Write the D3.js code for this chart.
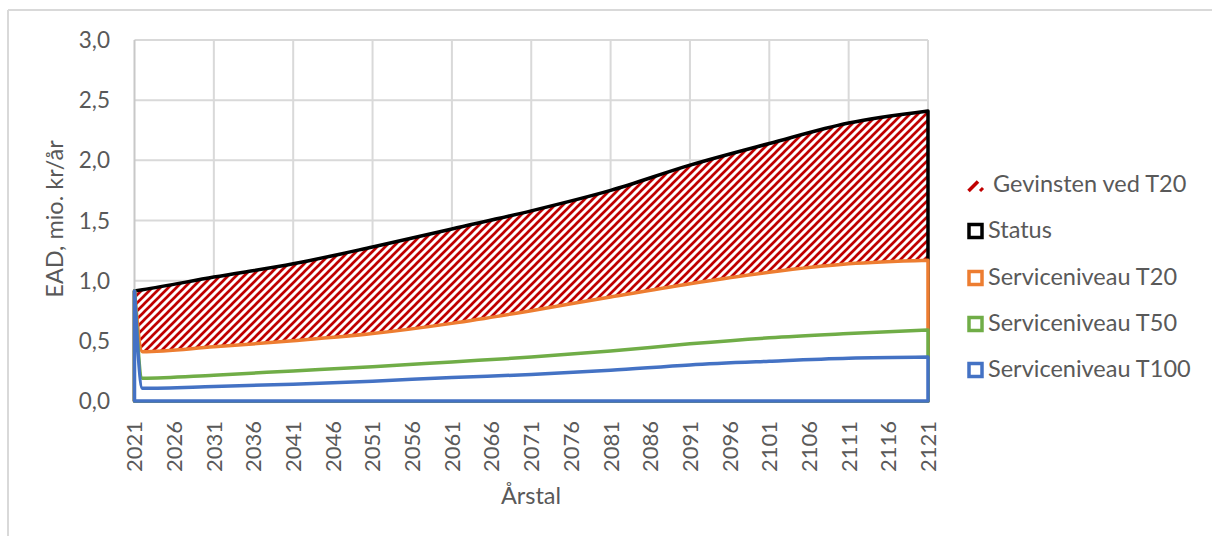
<!DOCTYPE html>
<html><head><meta charset="utf-8">
<script src="https://cdn.jsdelivr.net/npm/d3@7"></script>
<style>
body{margin:0;background:#fff;}
text{font-family:Lato, "Open Sans", sans-serif;fill:#595959;}
</style>
</head><body>
<svg id="c" width="1212" height="536"></svg>
<script>
// Categories (x axis: every year 2021..2121)
const categories = d3.range(2021, 2122);
const xTickLabels = [2021,2026,2031,2036,2041,2046,2051,2056,2061,2066,2071,2076,2081,2086,2091,2096,2101,2106,2111,2116,2121];
const yTickValues = [0,0.5,1,1.5,2,2.5,3];
const sampleYears = [2021,2022,2031,2041,2051,2061,2071,2081,2091,2101,2111,2121];
const status = [0.915,0.925,1.03,1.14,1.28,1.43,1.58,1.75,1.96,2.14,2.31,2.41];
const t20    = [0.915,0.41,0.45,0.50,0.56,0.645,0.75,0.865,0.975,1.07,1.14,1.17];
const t50    = [0.915,0.19,0.215,0.25,0.285,0.325,0.365,0.415,0.475,0.525,0.56,0.59];
const t100   = [0.915,0.105,0.12,0.14,0.165,0.195,0.22,0.255,0.30,0.33,0.355,0.365];
const legendLabels = ["Gevinsten ved T20","Status","Serviceniveau T20","Serviceniveau T50","Serviceniveau T100"];
const colors = {gain:"#C00000", status:"#000000", t20:"#ED7D31", t50:"#70AD47", t100:"#4472C4"};

const svg = d3.select("#c");
const L=134.5, R=928, T=40, B=401;
const x = d3.scalePoint().domain(categories).range([L, R]);
const y = d3.scaleLinear().domain([0,3]).range([B, T]);
const curve = d3.curveMonotoneX;

// chart border (top + left)
svg.append("line").attr("x1",8).attr("x2",1212).attr("y1",10).attr("y2",10).attr("stroke","#d9d9d9").attr("stroke-width",2);
svg.append("line").attr("x1",8).attr("x2",8).attr("y1",10).attr("y2",536).attr("stroke","#d9d9d9").attr("stroke-width",2);

// hatch pattern
const defs = svg.append("defs");
const pat = defs.append("pattern").attr("id","hatch").attr("patternUnits","userSpaceOnUse").attr("width",8).attr("height",8);
pat.append("rect").attr("width",8).attr("height",8).attr("fill","#fff");
pat.append("path").attr("d","M-2,2 L2,-2 M0,8 L8,0 M6,10 L10,6").attr("stroke",colors.gain).attr("stroke-width",2.7);

// gridlines
svg.append("g").selectAll("line").data(yTickValues.filter(v=>v>0)).join("line")
  .attr("x1",L).attr("x2",R).attr("y1",d=>y(d)).attr("y2",d=>y(d))
  .attr("stroke","#d9d9d9").attr("stroke-width",2);
svg.append("g").selectAll("line").data(categories.filter(c=>(c-2021)%10===0 && c>2021)).join("line")
  .attr("x1",d=>x(d)).attr("x2",d=>x(d)).attr("y1",T).attr("y2",B)
  .attr("stroke","#d9d9d9").attr("stroke-width",2);
// axis lines
svg.append("line").attr("x1",L).attr("x2",L).attr("y1",T).attr("y2",B).attr("stroke","#c8c8c8").attr("stroke-width",2);
svg.append("line").attr("x1",L).attr("x2",R).attr("y1",B).attr("y2",B).attr("stroke","#c8c8c8").attr("stroke-width",2);

const pts = arr => sampleYears.map((yr,i)=>({yr, v:arr[i]}));
// Gain area between T20 and Status
const gain = sampleYears.map((yr,i)=>({yr, lo:t20[i], hi:status[i]}));
svg.append("path").datum(gain)
  .attr("d", d3.area().curve(curve).x(d=>x(d.yr)).y0(d=>y(d.lo)).y1(d=>y(d.hi)))
  .attr("fill","url(#hatch)");

function outline(arr, col, fill){
  const p = pts(arr);
  const line = d3.line().curve(curve).x(d=>x(d.yr)).y(d=>y(d.v));
  const d = "M"+x(sampleYears[0])+","+y(0)+"L"+line(p).slice(1)+"L"+x(sampleYears[sampleYears.length-1])+","+y(0)+"Z";
  svg.append("path").attr("d",d).attr("fill",fill).attr("stroke",col).attr("stroke-width",3.5).attr("stroke-linejoin","round");
}
outline(status, colors.status, "none");
outline(t20, colors.t20, "#fff");
outline(t50, colors.t50, "#fff");
outline(t100, colors.t100, "#fff");

// Y axis labels
svg.append("g").selectAll("text").data(yTickValues).join("text")
  .attr("x",110).attr("y",d=>y(d)).attr("dy","0.36em").attr("text-anchor","end")
  .style("font-size","22.5px").text(d=>d3.format(".1f")(d).replace(".",","));
// X axis labels
svg.append("g").selectAll("text").data(xTickLabels).join("text")
  .attr("transform",d=>`translate(${x(d)},421) rotate(-90)`).attr("dy","0.36em").attr("text-anchor","end")
  .style("font-size","22px").text(d=>d);
// Axis titles
svg.append("text").attr("transform","translate(63,219) rotate(-90)").attr("text-anchor","middle")
  .style("font-size","23.5px").text("EAD, mio. kr/år");
svg.append("text").attr("x",531).attr("y",504).attr("text-anchor","middle")
  .style("font-size","23.5px").text("Årstal");

// Legend
const legendBase = [192,238,285,331,377];
const lg = svg.append("g");
legendLabels.forEach((lab,i)=>{
  const b = legendBase[i];
  if(i===0){
    lg.append("line").attr("x1",968.5).attr("y1",b-1).attr("x2",978).attr("y2",b-10.5).attr("stroke",colors.gain).attr("stroke-width",3.5);
    lg.append("line").attr("x1",980).attr("y1",b-1).attr("x2",983).attr("y2",b-4).attr("stroke",colors.gain).attr("stroke-width",3);
    lg.append("text").attr("x",993).attr("y",b).style("font-size","23.5px").text(lab);
  } else {
    const col = [null,colors.status,colors.t20,colors.t50,colors.t100][i];
    lg.append("rect").attr("x",969).attr("y",b-13.5).attr("width",13).attr("height",13)
      .attr("fill","#fff").attr("stroke",col).attr("stroke-width",3.5);
    lg.append("text").attr("x",988).attr("y",b).style("font-size","23.5px").text(lab);
  }
});
</script>
</body></html>
